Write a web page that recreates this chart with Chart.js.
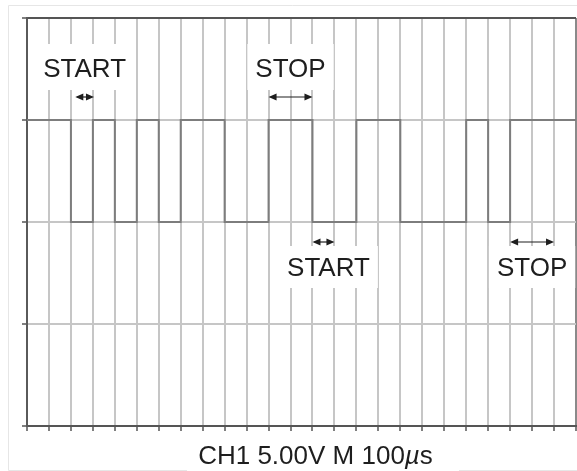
<!DOCTYPE html>
<html>
<head>
<meta charset="utf-8">
<script src="https://cdn.jsdelivr.net/npm/chart.js@4/dist/chart.umd.min.js"></script>
<style>
  body { margin: 0; background: #fff; }
  #wrap { width: 577px; height: 471px; }
</style>
</head>
<body>
<div id="wrap"><canvas id="scope" width="577" height="471"></canvas></div>
<script>
// time (in divisions) where the trace changes level, and the level after each edge
const edgeTimes = [0, 2, 3, 4, 5, 6, 7, 9, 11, 13, 15, 17, 20, 21, 22, 25];
const edgeLevels = [3, 2, 3, 2, 3, 2, 3, 2, 3, 2, 3, 2, 3, 2, 3, 3];

// start / stop bit markers
const markerLabels = ['START', 'STOP', 'START', 'STOP'];
const markerFrom = [2.2, 11, 13, 22];
const markerTo = [3.05, 13, 14, 24];
const markerLevel = [3, 3, 2, 2];

const captionParts = ['CH1 5.00V M 100', 'µ', 's'];

const FONT = "'Liberation Sans', Arial, sans-serif";

// --- markers, label boxes, frame and caption ---
const scopeText = {
    id: 'scopeText',
    beforeDraw(chart) {
        const ctx = chart.ctx;
        ctx.save();
        ctx.fillStyle = '#fff';
        ctx.fillRect(0, 0, chart.width, chart.height);
        // faint outer frame
        ctx.strokeStyle = '#e6e6e6';
        ctx.lineWidth = 1;
        ctx.beginPath();
        ctx.moveTo(chart.width, 5.5);
        ctx.lineTo(8.5, 5.5);
        ctx.lineTo(8.5, 470.5);
        ctx.lineTo(187, 470.5);
        ctx.moveTo(459, 470.5);
        ctx.lineTo(chart.width, 470.5);
        ctx.stroke();
        ctx.restore();
    },
    afterDatasetsDraw(chart) {
        const ctx = chart.ctx;
        const xs = chart.scales.x, ys = chart.scales.y;
        ctx.save();
        ctx.font = '26px ' + FONT;
        markerLabels.forEach((label, i) => {
            const x0 = xs.getPixelForValue(markerFrom[i]);
            const x1 = xs.getPixelForValue(markerTo[i]);
            const lv = ys.getPixelForValue(markerLevel[i]);
            const above = markerLevel[i] === 3;
            const arrowY = above ? lv - 23 : lv + 20;
            const base = above ? lv - 43 : lv + 54;
            const nudge = (!above && label === 'START') ? 5 : 0;
            const cx = (x0 + x1) / 2 + nudge;
            const w = ctx.measureText(label).width;
            // white box hiding the grid behind the label
            ctx.fillStyle = '#fff';
            if (above) ctx.fillRect(cx - w / 2 - 8, base - 33, w + 16, 46);
            else ctx.fillRect(cx - w / 2 - 8, base - 30, w + 16, 42);
            ctx.fillStyle = '#1e1e1e';
            ctx.textAlign = 'center';
            ctx.textBaseline = 'alphabetic';
            ctx.fillText(label, cx, base);
            // double arrow
            const head = 8, hh = 3.5;
            ctx.strokeStyle = '#1e1e1e';
            ctx.lineWidth = 1.2;
            ctx.beginPath();
            ctx.moveTo(x0 + 2, arrowY);
            ctx.lineTo(x1 - 2, arrowY);
            ctx.stroke();
            ctx.beginPath();
            ctx.moveTo(x0, arrowY);
            ctx.lineTo(x0 + head, arrowY - hh);
            ctx.lineTo(x0 + head, arrowY + hh);
            ctx.closePath();
            ctx.moveTo(x1, arrowY);
            ctx.lineTo(x1 - head, arrowY - hh);
            ctx.lineTo(x1 - head, arrowY + hh);
            ctx.closePath();
            ctx.fill();
        });

        // caption with italic mu
        const fonts = ['26px ' + FONT, 'italic 26px ' + FONT, '26px ' + FONT];
        let total = 0;
        const widths = captionParts.map((p, i) => {
            ctx.font = fonts[i];
            const w = ctx.measureText(p).width;
            total += w;
            return w;
        });
        ctx.fillStyle = '#fff';
        ctx.fillRect(187, 436, 272, 35);
        ctx.fillStyle = '#1e1e1e';
        ctx.textAlign = 'left';
        let x = 315.5 - total / 2;
        captionParts.forEach((p, i) => {
            ctx.font = fonts[i];
            ctx.fillText(p, x, 464);
            x += widths[i];
        });
        ctx.restore();
    }
};

const points = edgeTimes.map((t, i) => ({ x: t, y: edgeLevels[i] }));

new Chart(document.getElementById('scope').getContext('2d'), {
    type: 'line',
    data: {
        datasets: [{
            data: points,
            stepped: true,
            borderColor: '#7d7d7d',
            borderWidth: 2,
            pointRadius: 0,
            fill: false
        }]
    },
    options: {
        responsive: false,
        animation: false,
        layout: { padding: { left: 22, right: 1, top: 18, bottom: 40 } },
        plugins: {
            legend: { display: false },
            tooltip: { enabled: false }
        },
        scales: {
            x: {
                type: 'linear',
                min: 0,
                max: 25,
                ticks: { display: false, stepSize: 1, maxTicksLimit: 40 },
                grid: {
                    color: c => c.tick && c.tick.value === 25 ? '#8a8a8a' : '#c6c6c6',
                    lineWidth: 2,
                    drawTicks: true,
                    tickLength: 5,
                    tickColor: '#555',
                    tickWidth: 1.5
                },
                border: { display: true, color: '#555', width: 2 }
            },
            y: {
                type: 'linear',
                min: 0,
                max: 4,
                ticks: { display: false, stepSize: 1 },
                grid: {
                    color: c => c.tick && c.tick.value === 4 ? '#555' : '#c6c6c6',
                    lineWidth: 2,
                    drawTicks: true,
                    tickLength: 5,
                    tickColor: '#555',
                    tickWidth: 1.5
                },
                border: { display: true, color: '#5a5a5a', width: 2 }
            }
        }
    },
    plugins: [scopeText]
});
</script>
</body>
</html>
